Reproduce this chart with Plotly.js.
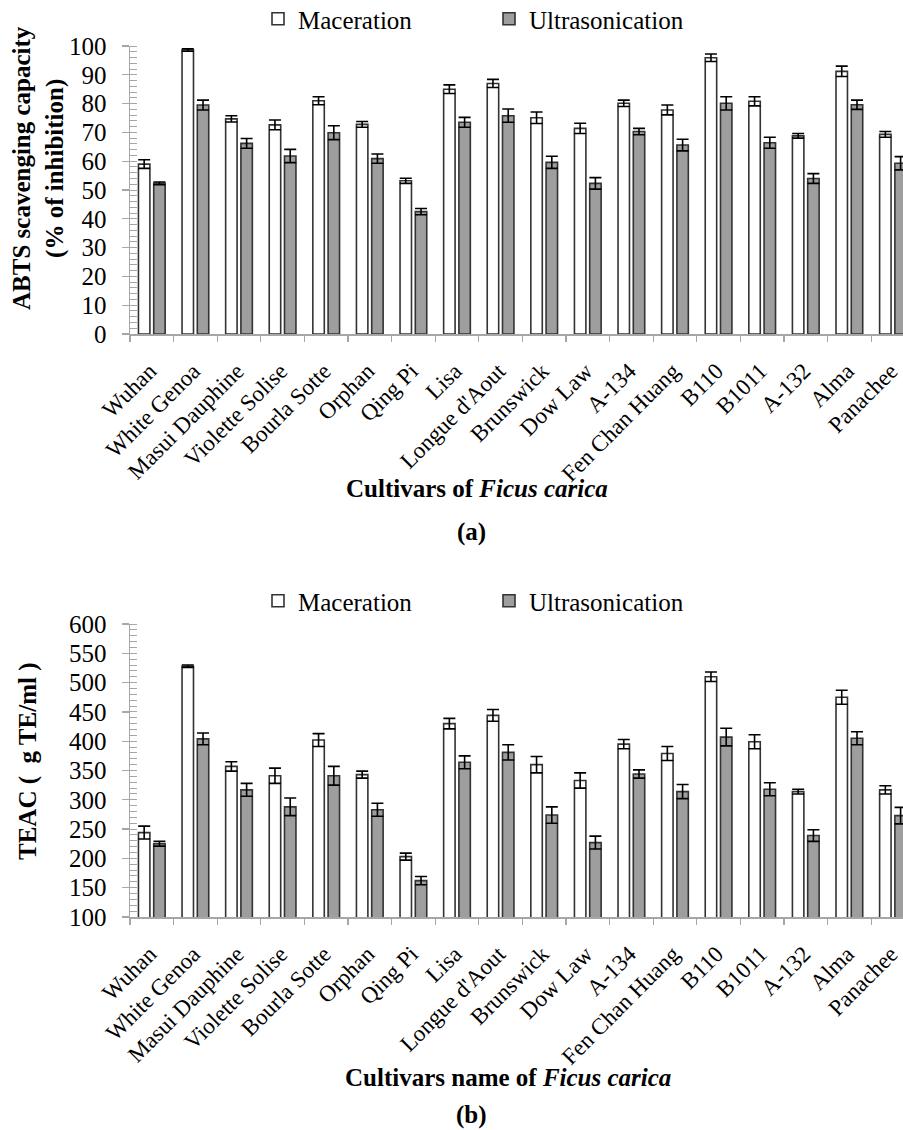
<!DOCTYPE html>
<html>
<head>
<meta charset="utf-8">
<script src="https://cdn.plot.ly/plotly-3.0.1.min.js"></script>
<style>html,body{margin:0;padding:0;background:#fff}#chart{width:903px;height:1130px}</style>
</head>
<body>
<div id="chart"></div>
<script>
const cultivars = ["Wuhan","White Genoa","Masui Dauphine","Violette Solise","Bourla Sotte","Orphan","Qing Pi","Lisa","Longue d'Aout","Brunswick","Dow Law","A-134","Fen Chan Huang","B110","B1011","A-132","Alma","Panachee"];

// (a) ABTS scavenging capacity (% of inhibition)
const abtsMaceration = [59.0,98.6,74.7,72.6,81.0,72.8,53.2,85.0,87.0,75.1,71.4,80.1,77.8,95.9,80.8,68.8,91.2,69.3];
const abtsMacerationErr = [1.5,0.4,1.1,1.7,1.4,1.0,0.9,1.5,1.4,2.0,1.8,1.1,1.7,1.3,1.6,0.8,1.8,1.0];
const abtsUltrasonication = [52.3,79.5,66.2,61.8,69.9,60.9,42.5,73.5,75.8,59.6,52.3,70.3,65.6,80.1,66.4,54.0,79.6,59.3];
const abtsUltrasonicationErr = [0.5,1.7,1.7,2.3,2.4,1.6,1.1,1.7,2.3,2.1,2.0,1.1,2.0,2.3,1.9,1.7,1.6,2.3];

// (b) TEAC (µg TE/ml)
const teacMaceration = [244,528,357,341,402,343,203,430,444,360,333,395,379,510,399,314,475,317];
const teacMacerationErr = [11,2,8,13,11,6,6,9,10,14,13,8,12,8,12,4,12,7];
const teacUltrasonication = [225,404,317,288,341,283,162,364,381,274,227,344,314,407,318,239,405,273];
const teacUltrasonicationErr = [4,10,11,15,16,11,7,11,13,14,11,7,12,15,11,10,11,14];

const seriesNames = ["Maceration","Ultrasonication"];

const FONT = "Liberation Serif";
const AXIS_GRAY = "#a6a6a6";
const OUTLINE = "#333333";
const GRAY_FILL = "#9e9e9e";

function barTrace(name, y, err, fill, xa, ya, legend) {
  return {
    type: "bar", name: name, x: cultivars, y: y,
    xaxis: xa, yaxis: ya, legend: legend,
    marker: {color: fill, line: {color: OUTLINE, width: 1.6}},
    error_y: {type: "data", array: err, visible: true, color: "#000", thickness: 1.6, width: 6}
  };
}

const data = [
  barTrace(seriesNames[0], abtsMaceration, abtsMacerationErr, "#ffffff", "x", "y", "legend"),
  barTrace(seriesNames[1], abtsUltrasonication, abtsUltrasonicationErr, GRAY_FILL, "x", "y", "legend"),
  barTrace(seriesNames[0], teacMaceration, teacMacerationErr, "#ffffff", "x2", "y2", "legend2"),
  barTrace(seriesNames[1], teacUltrasonication, teacUltrasonicationErr, GRAY_FILL, "x2", "y2", "legend2")
];

const W = 903, H = 1130;
const xDomain = [130 / W, 1];
const xRange = [-0.5, 17.23];

function xAxis(anchor) {
  return {
    domain: xDomain, range: xRange, anchor: anchor, type: "category",
    showline: true, linecolor: AXIS_GRAY, linewidth: 1.5,
    ticks: "outside", tickson: "boundaries", ticklen: 6, tickcolor: AXIS_GRAY, tickwidth: 1.3,
    tickangle: -45, tickfont: {family: FONT, size: 23, color: "#000"},
    ticklabelstandoff: 13, ticklabelshift: -2,
    showgrid: false, zeroline: false, automargin: false, fixedrange: true
  };
}
function yAxis(anchor, domain, range, dtick, minorDtick) {
  return {
    domain: domain, range: range, anchor: anchor, dtick: dtick,
    showline: true, linecolor: AXIS_GRAY, linewidth: 1.5,
    ticks: "outside", ticklen: 7, tickcolor: AXIS_GRAY, tickwidth: 1.3,
    minor: {dtick: minorDtick, ticks: "inside", ticklen: 7, tickcolor: AXIS_GRAY, tickwidth: 1, showgrid: false},
    tickfont: {family: FONT, size: 25, color: "#000"},
    ticklabelstandoff: 10,
    showgrid: false, zeroline: false, automargin: false, fixedrange: true
  };
}

const legendBase = {
  orientation: "h", x: 258 / W, xanchor: "left", yanchor: "top",
  font: {family: FONT, size: 25, color: "#000"}, entrywidth: 186, entrywidthmode: "pixels",
  bgcolor: "rgba(0,0,0,0)", itemclick: false, itemdoubleclick: false
};

const layout = {
  width: W, height: H,
  margin: {l: 0, r: 0, t: 0, b: 0, autoexpand: false},
  paper_bgcolor: "#fff", plot_bgcolor: "#fff",
  font: {family: FONT, color: "#000"},
  barmode: "group", bargap: 0.30, bargroupgap: 0.25,
  xaxis: xAxis("y"),
  yaxis: yAxis("x", [1 - 334 / H, 1 - 46 / H], [0, 100], 10, 2),
  xaxis2: xAxis("y2"),
  yaxis2: yAxis("x2", [1 - 917 / H, 1 - 624 / H], [100, 600], 50, 10),
  legend: Object.assign({}, legendBase, {y: 1 + 4 / H}),
  legend2: Object.assign({}, legendBase, {y: 1 - 578 / H}),
  annotations: [
    {text: "<b>ABTS scavenging capacity<br>(% of inhibition)</b>", textangle: -90,
     xref: "paper", yref: "paper", x: 38 / W, y: 1 - 168 / H, xanchor: "center", yanchor: "middle",
     showarrow: false, font: {family: FONT, size: 25, color: "#000"}},
    {text: "<b>Cultivars of <i>Ficus carica</i></b>",
     xref: "paper", yref: "paper", x: 477 / W, y: 1 - 488 / H, xanchor: "center", yanchor: "middle",
     showarrow: false, font: {family: FONT, size: 25, color: "#000"}},
    {text: "<b>(a)</b>",
     xref: "paper", yref: "paper", x: 471 / W, y: 1 - 532 / H, xanchor: "center", yanchor: "middle",
     showarrow: false, font: {family: FONT, size: 25, color: "#000"}},
    {text: "<b>TEAC (  g TE/ml )</b>", textangle: -90,
     xref: "paper", yref: "paper", x: 28 / W, y: 1 - 762 / H, xanchor: "center", yanchor: "middle",
     showarrow: false, font: {family: FONT, size: 25, color: "#000"}},
    {text: "<b>Cultivars name of <i>Ficus carica</i></b>",
     xref: "paper", yref: "paper", x: 508 / W, y: 1 - 1077 / H, xanchor: "center", yanchor: "middle",
     showarrow: false, font: {family: FONT, size: 25, color: "#000"}},
    {text: "<b>(b)</b>",
     xref: "paper", yref: "paper", x: 471 / W, y: 1 - 1115 / H, xanchor: "center", yanchor: "middle",
     showarrow: false, font: {family: FONT, size: 25, color: "#000"}}
  ]
};

Plotly.newPlot("chart", data, layout, {displayModeBar: false, staticPlot: true});
</script>
</body>
</html>
